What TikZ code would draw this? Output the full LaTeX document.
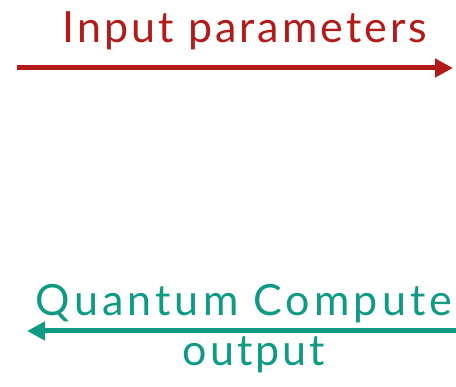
\documentclass[tikz,border=0pt]{standalone}
\usepackage{fontspec}
\setmainfont{Lato}[LetterSpace=7]
\newfontfamily\wideqc{Lato}[LetterSpace=9.5]
\usetikzlibrary{arrows.meta}
\definecolor{inred}{HTML}{B31B1B}
\definecolor{outteal}{HTML}{0E9A83}
\tikzset{
  lbl/.style={inner sep=0pt, anchor=base, font=\fontsize{43}{43}\selectfont},
  arr/.style={line width=5pt, -{Triangle[length=18pt,width=18pt]}}
}
\begin{document}
\begin{tikzpicture}[x=1pt,y=-1pt]
\useasboundingbox (0,0) rectangle (456,387);
\node[lbl, text=inred] (inp) at (245,43) {Input parameters};
\coordinate (a1s) at (17,68);
\coordinate (a1e) at (453,68);
\draw[arr, draw=inred, fill=inred] (a1s) -- (a1e);
\node[lbl, text=outteal, font=\fontsize{43}{43}\wideqc] (qc) at (244,316) {Quantum Compute};
\coordinate (a2s) at (456,331);
\coordinate (a2e) at (27,331);
\draw[arr, draw=outteal, fill=outteal] (a2s) -- (a2e);
\node[lbl, text=outteal] (out) at (254,366) {output};
\end{tikzpicture}
\end{document}
